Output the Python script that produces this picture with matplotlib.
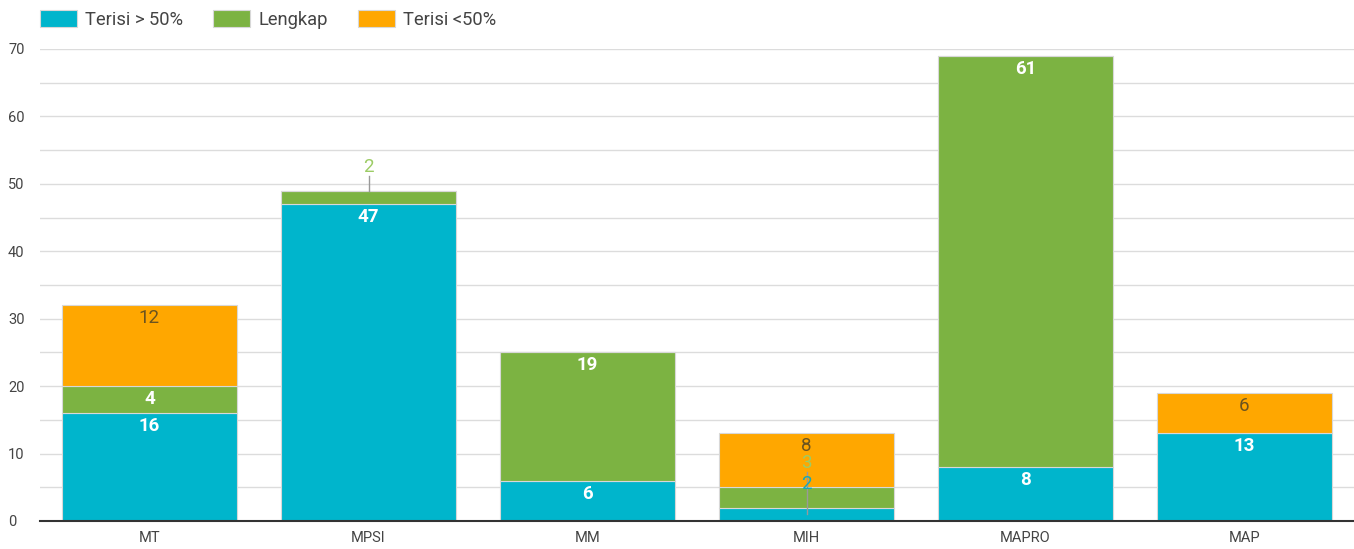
import matplotlib
matplotlib.use("Agg")
import matplotlib.pyplot as plt
import numpy as np

categories = ["MT", "MPSI", "MM", "MIH", "MAPRO", "MAP"]
series_names = ["Terisi > 50%", "Lengkap", "Terisi <50%"]
terisi_lebih = [16, 47, 6, 2, 8, 13]
lengkap = [4, 2, 19, 3, 61, 0]
terisi_kurang = [12, 0, 0, 8, 0, 6]
y_ticks = [0, 10, 20, 30, 40, 50, 60, 70]

colors = ["#00B5CC", "#7CB342", "#FFA700"]
inside_text = ["white", "white", "#6b5420"]
outside_text = ["#16a8b8", "#9ccc65", "#6b5420"]

plt.rcParams["font.family"] = ["Roboto", "DejaVu Sans"]

fig = plt.figure(figsize=(13.54, 5.49), dpi=100)
ax = fig.add_axes([40 / 1354, 1 - 521 / 549, 1 - 40 / 1354, 472 / 549])

x = np.arange(len(categories))
width = 0.80
series = [terisi_lebih, lengkap, terisi_kurang]
bottoms = np.zeros(len(categories))
handles = []
seg_info = []
for i, vals in enumerate(series):
    vals = np.array(vals, dtype=float)
    h = ax.bar(x, vals, width, bottom=bottoms, color=colors[i],
               edgecolor="#d8d8d8", linewidth=0.8, zorder=3, label=series_names[i])
    handles.append(h)
    seg_info.append((vals.copy(), bottoms.copy()))
    bottoms = bottoms + vals

px_per_unit = 472 / 70.0
for j in range(len(categories)):
    small = []
    for i in range(3):
        vals, bots = seg_info[i]
        v = vals[j]
        if v <= 0:
            continue
        top = bots[j] + v
        if v * px_per_unit >= 26:
            ax.annotate(f"{int(v)}", xy=(x[j], top), xytext=(0, -13),
                        textcoords="offset pixels", ha="center", va="center",
                        fontsize=13.5, fontweight="bold" if inside_text[i] == "white" else "normal",
                        color=inside_text[i], zorder=5)
        else:
            small.append((i, v, bots[j], top))
    if small:
        top_small = small[-1][3]
        n = len(small)
        for k, (i, v, b, t) in enumerate(small):
            off = 24 - 21 * (n - 1 - k)
            ax.annotate(f"{int(v)}", xy=(x[j], top_small), xytext=(0, off),
                        textcoords="offset pixels", ha="center", va="center",
                        fontsize=13.5, color=outside_text[i], zorder=6)
        y0 = small[0][2] + small[0][1] / 2 if n > 1 else small[0][3]
        y1 = top_small + 15 / px_per_unit
        ax.plot([x[j], x[j]], [y0, y1], color="#999999", linewidth=1, zorder=4)

ax.set_xlim(-0.5, len(categories) - 0.5)
ax.set_ylim(0, 70)
ax.set_yticks(y_ticks)
ax.set_yticks(np.arange(5, 70, 10), minor=True)
ax.set_xticks(x)
ax.set_xticklabels(categories)
ax.tick_params(axis="both", which="both", length=0, labelsize=10.5, colors="#444444")
for lbl in ax.get_yticklabels():
    lbl.set_horizontalalignment("left")
ax.tick_params(axis="y", which="both", pad=23)
ax.tick_params(axis="x", pad=7)
ax.grid(axis="y", which="both", color="#dcdcdc", linewidth=1, zorder=0)
ax.set_axisbelow(True)
for s in ["top", "right", "left"]:
    ax.spines[s].set_visible(False)
ax.spines["bottom"].set_color("#333333")
ax.spines["bottom"].set_linewidth(1.5)
ax.spines["bottom"].set_zorder(7)

fig.legend(handles=handles, labels=series_names, loc="upper left",
           bbox_to_anchor=(40 / 1354, 1 - 10 / 549), ncol=3, frameon=False,
           fontsize=13.2, handlelength=2.02, handleheight=1.09, handletextpad=0.45,
           columnspacing=1.64, borderpad=0, borderaxespad=0, labelcolor="#444444")

fig.savefig("out.png", dpi=100)
